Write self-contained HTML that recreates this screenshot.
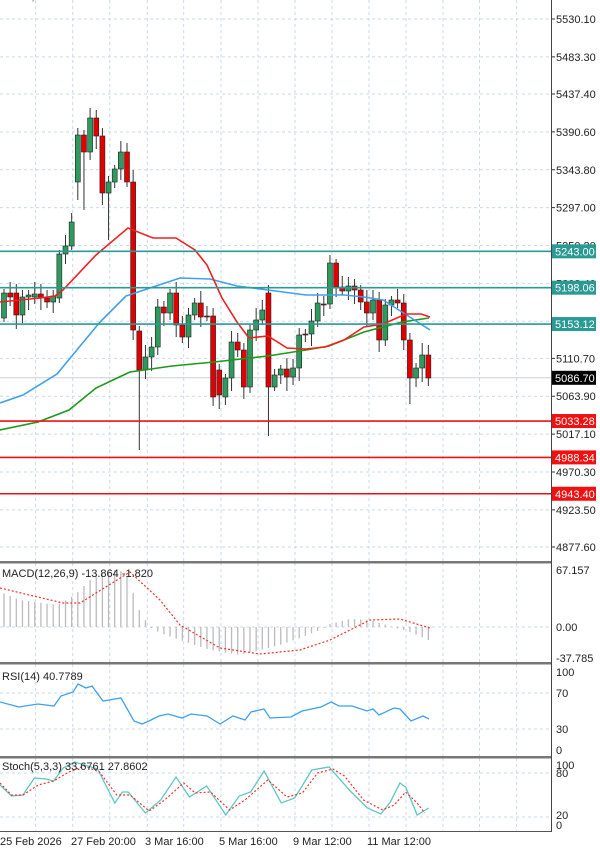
<!DOCTYPE html>
<html><head><meta charset="utf-8"><style>
html,body{margin:0;padding:0;background:#fff;width:600px;height:852px;overflow:hidden}
svg{display:block;font-family:"Liberation Sans",sans-serif}
</style></head><body>
<svg id="s" width="600" height="852" xmlns="http://www.w3.org/2000/svg"></svg>
<script>
const S=document.getElementById('s');let h='';
const P=p=>19+(5530.1-p)*0.80920;
// grid verticals
const gx=[35.6,72.7,109.8,147.3,183.7,221,258,295,332,369,406,443,479.5,516.6];
const panels=[[0,561],[563,662],[664,756],[758,831]];
for(const [a,b] of panels)for(const x of gx)h+=`<line x1="${x}" y1="${a}" x2="${x}" y2="${b}" stroke="#c9d9ee" stroke-dasharray="3,3"/>`;
const axl=[["5530.10",5530.1],["5483.30",5483.3],["5437.40",5437.4],["5390.60",5390.6],["5343.80",5343.8],["5297.00",5297],["5250.20",5250.2],["5203.40",5203.4],["5156.60",5156.6],["5110.70",5110.7],["5063.90",5063.9],["5017.10",5017.1],["4970.30",4970.3],["4923.50",4923.5],["4877.60",4877.6]];
for(const [t,p] of axl){const y=P(p);h+=`<line x1="0" y1="${y}" x2="551" y2="${y}" stroke="#c9d9ee" stroke-dasharray="3,3"/><line x1="551" y1="${y}" x2="555" y2="${y}" stroke="#333"/><text x="556" y="${y+4}" font-size="11" fill="#222">${t}</text>`;}
// other panel grids
[[627],[693,729],[773,817]].forEach(a=>a.forEach(y=>h+=`<line x1="0" y1="${y}" x2="551" y2="${y}" stroke="#c9d9ee" stroke-dasharray="3,3"/>`));
// current price line
h+=`<line x1="0" y1="${P(5086.7)}" x2="551" y2="${P(5086.7)}" stroke="#c8d0dc"/>`;
// candles
const C=[[318,293],[293,297],[293,315],[315,297],[297,295],[297,294],[294,298],[298,302],[302,296],[298,254],[254,246],[246,222],[182,135],[135,152],[152,118],[118,136],[136,193],[193,182],[182,169],[169,152],[152,182],[182,330],[331,370],[370,357],[357,347],[347,307],[307,313],[313,293],[293,325],[325,337],[337,315],[315,303],[303,317],[316,317],[316,397],[370,395],[397,378],[378,342],[342,350],[350,387],[387,330],[330,320],[320,310],[293,387],[387,375],[375,369],[369,377],[377,368],[368,335],[334,335],[334,321],[321,303],[304,305],[304,263],[263,287],[287,291],[291,286],[286,290],[290,302],[302,313],[313,300],[300,340],[340,305],[305,300],[300,303],[303,340],[340,378],[378,368],[368,355],[355,378]];
const wk={21:[170,0],22:[0,450],16:[0,205],15:[110,0],14:[108,0],43:[0,436],12:[0,200],13:[0,210],17:[0,240],66:[0,404],53:[255,0]};
C.forEach((c,i)=>{const x=4+i*6.15;const [o,cl]=c;const top=Math.min(o,cl),bot=Math.max(o,cl);
let hi=top-4-(i*7%9),lo=bot+4+(i*5%11);if(wk[i]){if(wk[i][0])hi=wk[i][0];if(wk[i][1])lo=wk[i][1];}
const up=cl<o;h+=`<line x1="${x}" y1="${hi}" x2="${x}" y2="${lo}" stroke="#333"/>`;
h+=`<rect x="${x-2.5}" y="${top}" width="5" height="${Math.max(bot-top,1)}" fill="${up?'#2e9a5e':'#e00000'}" stroke="#222" stroke-width="0.6"/>`;});
const pl=(pts,col,w,d)=>`<polyline fill="none" stroke="${col}" stroke-width="${w}" ${d?`stroke-dasharray="${d}"`:''} points="${pts.map(p=>p.join(',')).join(' ')}"/>`;
h+=pl([[0,430],[38,422],[69,410],[96,388],[130,372],[172,366],[214,362],[268,356],[306,350],[329,346],[364,332],[402,322],[429,318]],'#1a9a1a',1.6);
h+=pl([[0,403],[23,395],[57,374],[100,322],[126,296],[153,287],[180,278],[210,279],[237,286],[268,290],[306,295],[344,295],[364,297],[383,300],[402,312],[430,330]],'#3ea0f0',1.6);
h+=pl([[0,302],[40,298],[55,296],[63,290],[96,255],[128,228],[153,238],[176,238],[195,250],[207,265],[222,298],[237,322],[249,338],[268,336],[287,348],[306,349],[325,347],[344,340],[364,327],[383,324],[406,314],[421,314],[430,317]],'#f02020',1.6);
// levels
const lv=[[5243.00,'#2a9a94'],[5198.06,'#2a9a94'],[5153.12,'#2a9a94'],[5033.28,'#f01010'],[4988.34,'#f01010'],[4943.40,'#f01010']];
lv.forEach(([p,c])=>{const y=P(p);h+=`<line x1="0" y1="${y}" x2="551" y2="${y}" stroke="${c}" stroke-width="1.6"/><rect x="552" y="${y-7}" width="44" height="14" fill="${c}"/><text x="555" y="${y+4}" font-size="11" fill="#fff">${p.toFixed(2)}</text>`;});
{const y=P(5086.7);h+=`<rect x="552" y="${y-7}" width="44" height="14" fill="#000"/><text x="555" y="${y+4}" font-size="11" fill="#fff">5086.70</text>`;}
// MACD
const mk=[[0,592],[20,600],[57,605],[75,595],[95,575],[115,570],[125,572],[134,595],[140,612],[150,627],[160,633],[180,640],[210,650],[240,655],[260,650],[280,645],[300,638],[320,630],[330,624],[350,619],[370,620],[390,626],[410,632],[428,640]];
const it=(k,x)=>{for(let j=0;j<k.length-1;j++)if(x<=k[j+1][0])return k[j][1]+(k[j+1][1]-k[j][1])*(x-k[j][0])/(k[j+1][0]-k[j][0]);return k[k.length-1][1];};
for(let i=0;i<70;i++){const x=4+i*6.15;h+=`<line x1="${x}" y1="627" x2="${x}" y2="${it(mk,x)}" stroke="#bbb" stroke-width="1.3"/>`;}
h+=pl([[0,588],[63,603],[80,603],[130,572],[160,600],[180,625],[220,648],[260,654],[300,650],[330,640],[370,620],[400,619],[430,628]],'#f03030',1.2,'2,2');
h+=`<text x="2" y="577" font-size="11" fill="#222">MACD(12,26,9) -13.864 -1.820</text>`;
[["67.157",570],["0.00",627],["-37.785",658]].forEach(([t,y])=>h+=`<text x="556" y="${y+4}" font-size="11" fill="#222">${t}</text>`);
// RSI
const rz=[[0,702],[19,707],[38,704],[54,706],[61,696],[73,692],[78,684],[86,688],[92,686],[103,701],[121,698],[134,721],[142,724],[149,721],[159,716],[168,714],[182,718],[191,714],[207,716],[220,724],[233,716],[245,720],[251,712],[264,709],[270,718],[291,717],[302,711],[321,707],[331,702],[339,706],[352,706],[367,711],[373,709],[379,715],[394,708],[400,709],[411,721],[423,716],[429,719]];
h+=pl(rz,'#3ea0f0',1.3);
h+=`<text x="2" y="680" font-size="11" fill="#222">RSI(14) 40.7789</text>`;
[["100",672],["70",693],["30",729],["0",750]].forEach(([t,y])=>h+=`<text x="556" y="${y+4}" font-size="11" fill="#222">${t}</text>`);
// Stoch
const k=2.613;
const st=[[0,785],[30,796],[60,795],[90,778],[120,779],[140,781],[165,768],[195,762],[255,769],[300,803],[320,792],[335,792],[380,813],[420,800],[460,777],[495,797],[540,786],[590,815],[625,796],[655,792],[690,771],[735,803],[770,798],[815,770],[860,767],[915,791],[960,808],[995,814],[1020,802],[1045,783],[1060,787],[1090,815],[1120,808]].map(p=>[p[0]/k,p[1]]);
const sr=[[0,783],[30,795],[60,795],[100,785],[140,781],[180,772],[220,766],[260,772],[305,795],[340,795],[390,811],[430,800],[480,783],[510,793],[550,792],[600,810],[640,800],[700,780],[750,797],[790,793],[830,773],[870,769],[900,776],[950,800],[1000,810],[1030,805],[1060,792],[1090,803],[1110,813]].map(p=>[p[0]/k,p[1]]);
h+=pl(st,'#5cc8c0',1.3);h+=pl(sr,'#f03030',1.2,'2,2');
h+=`<text x="2" y="770" font-size="11" fill="#222">Stoch(5,3,3) 33.6761 27.8602</text>`;
[["100",765],["80",773],["20",815],["0",825]].forEach(([t,y])=>h+=`<text x="556" y="${y+4}" font-size="11" fill="#222">${t}</text>`);
// borders
[561,662,756].forEach(y=>h+=`<rect x="0" y="${y}" width="551" height="2.5" fill="#777"/>`);
h+=`<line x1="0" y1="831.5" x2="551" y2="831.5" stroke="#555"/><line x1="551.5" y1="0" x2="551.5" y2="832" stroke="#444"/>`;
// header
h+=`<text x="10" y="0" font-size="11" fill="#333">US2,H1 5087.70 5098.80 5083.20 5086.70</text>`;
// dates
[["25 Feb 2026",0],["27 Feb 20:00",71],["3 Mar 16:00",145],["5 Mar 16:00",219],["9 Mar 12:00",293],["11 Mar 12:00",367]].forEach(([t,x])=>h+=`<text x="${x}" y="845" font-size="11" fill="#222">${t}</text>`);
S.innerHTML=h;
</script>
</body></html>
